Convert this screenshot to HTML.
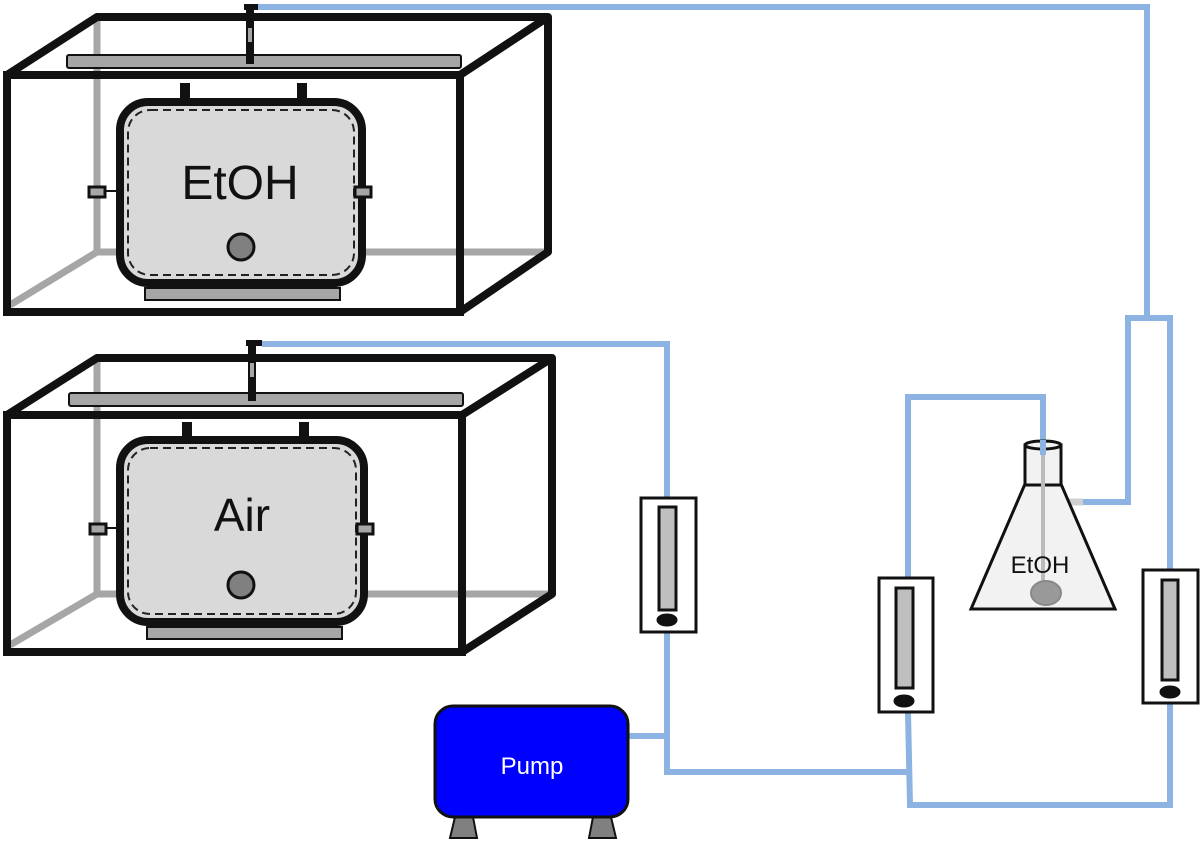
<!DOCTYPE html>
<html><head><meta charset="utf-8"><style>body{margin:0;background:#fff}svg{display:block}</style></head><body>
<svg width="1200" height="841" viewBox="0 0 1200 841" xmlns="http://www.w3.org/2000/svg" font-family="Liberation Sans, DejaVu Sans, sans-serif">
<g fill="none" stroke="#8db3e2" stroke-width="6">
<polyline points="258,7 1147,7 1147,318"/>
<polyline points="262,344 667,344 667,498"/>
<polyline points="667,632 667,772 910,772"/>
<line x1="628" y1="736" x2="667" y2="736"/>
<polyline points="908,578 908,397 1043,397 1043,455"/>
<polyline points="908,712 910,805 1170,805 1170,703"/>
<polyline points="1170,570 1170,318 1128,318 1128,502 1082,502"/>
</g>
<line x1="1060" y1="502" x2="1083" y2="502" stroke="#d0d0d0" stroke-width="7"/>
<!-- top box -->
<g>
<g stroke="#a6a6a6" stroke-width="7" fill="none">
<line x1="97" y1="17" x2="97" y2="252"/><line x1="97" y1="252" x2="548" y2="252"/><line x1="10" y1="305" x2="97" y2="252"/>
</g>
<g stroke="#111" stroke-width="8" fill="none" stroke-linejoin="round">
<polyline points="7,75 97,17 548,17 548,252 460,312"/>
<line x1="460" y1="75" x2="548" y2="17"/>
</g>
<rect x="67" y="55" width="394" height="13" rx="2" fill="#a6a6a6" stroke="#111" stroke-width="2"/>
<rect x="7" y="75" width="453" height="237" fill="none" stroke="#111" stroke-width="8"/>
<rect x="246" y="8" width="8" height="56" fill="#111"/><rect x="248" y="28" width="4" height="14" fill="#a6a6a6"/>
<rect x="244" y="4" width="14" height="6" fill="#111"/>
<rect x="180" y="83" width="10" height="28" fill="#111"/><rect x="297" y="83" width="10" height="28" fill="#111"/>
<rect x="145" y="288" width="195" height="12" fill="#a6a6a6" stroke="#111" stroke-width="2"/>
<rect x="120" y="102" width="242" height="181" rx="28" fill="#d9d9d9" stroke="#111" stroke-width="8"/>
<rect x="128" y="110" width="226" height="165" rx="22" fill="none" stroke="#222" stroke-width="2" stroke-dasharray="8,5"/>
<rect x="89" y="187" width="16" height="10" fill="#a6a6a6" stroke="#111" stroke-width="3"/>
<line x1="105" y1="191" x2="120" y2="191" stroke="#111" stroke-width="2"/>
<rect x="355" y="187" width="16" height="10" fill="#a6a6a6" stroke="#111" stroke-width="3"/>
<circle cx="241" cy="247" r="13" fill="#808080" stroke="#111" stroke-width="3"/>
<text x="240" y="199" font-size="48" text-anchor="middle" fill="#111">EtOH</text>
</g>
<!-- bottom box -->
<g>
<g stroke="#a6a6a6" stroke-width="7" fill="none">
<line x1="97" y1="358" x2="97" y2="594"/><line x1="97" y1="594" x2="552" y2="594"/><line x1="10" y1="645" x2="97" y2="594"/>
</g>
<g stroke="#111" stroke-width="8" fill="none" stroke-linejoin="round">
<polyline points="7,415 97,358 552,358 552,594 462,652"/>
<line x1="462" y1="415" x2="552" y2="358"/>
</g>
<rect x="69" y="393" width="394" height="13" rx="2" fill="#a6a6a6" stroke="#111" stroke-width="2"/>
<rect x="7" y="415" width="455" height="237" fill="none" stroke="#111" stroke-width="8"/>
<rect x="248" y="345" width="8" height="56" fill="#111"/><rect x="250" y="363" width="4" height="14" fill="#a6a6a6"/>
<rect x="246" y="340" width="16" height="6" fill="#111"/>
<rect x="182" y="422" width="10" height="28" fill="#111"/><rect x="299" y="422" width="10" height="28" fill="#111"/>
<rect x="147" y="627" width="195" height="12" fill="#a6a6a6" stroke="#111" stroke-width="2"/>
<rect x="120" y="440" width="244" height="182" rx="28" fill="#d9d9d9" stroke="#111" stroke-width="8"/>
<rect x="128" y="448" width="228" height="166" rx="22" fill="none" stroke="#222" stroke-width="2" stroke-dasharray="8,5"/>
<rect x="90" y="524" width="16" height="10" fill="#a6a6a6" stroke="#111" stroke-width="3"/>
<line x1="106" y1="528" x2="120" y2="528" stroke="#111" stroke-width="2"/>
<rect x="357" y="524" width="16" height="10" fill="#a6a6a6" stroke="#111" stroke-width="3"/>
<circle cx="241" cy="585" r="13" fill="#808080" stroke="#111" stroke-width="3"/>
<text x="242" y="531" font-size="46" text-anchor="middle" fill="#111">Air</text>
</g>
<!-- rotameters -->
<g stroke="#111" stroke-width="3">
<rect x="641" y="498" width="55" height="134" fill="#fff"/>
<rect x="659" y="507" width="17" height="103" fill="#bfbfbf"/>
<ellipse cx="667" cy="620" rx="9" ry="5" fill="#111"/>
<rect x="879" y="578" width="54" height="134" fill="#fff"/>
<rect x="896" y="588" width="17" height="100" fill="#bfbfbf"/>
<ellipse cx="904" cy="701" rx="9" ry="5" fill="#111"/>
<rect x="1143" y="570" width="55" height="133" fill="#fff"/>
<rect x="1162" y="580" width="16" height="100" fill="#bfbfbf"/>
<ellipse cx="1170" cy="692" rx="9" ry="5" fill="#111"/>
</g>
<!-- flask -->
<polygon points="1025,484 1061,484 1115,609 971,609" fill="#f2f2f2" stroke="#111" stroke-width="3"/>
<rect x="1025" y="445" width="36" height="40" fill="#f2f2f2" stroke="#111" stroke-width="3"/>
<ellipse cx="1043" cy="445" rx="18" ry="4" fill="#f2f2f2" stroke="#111" stroke-width="3"/>
<line x1="1043" y1="452" x2="1043" y2="590" stroke="#bbb" stroke-width="4"/>
<line x1="1043" y1="440" x2="1043" y2="455" stroke="#8db3e2" stroke-width="6"/>
<ellipse cx="1046" cy="593" rx="15" ry="12" fill="#999" stroke="#888" stroke-width="2"/>
<text x="1040" y="573" font-size="24" text-anchor="middle" fill="#111">EtOH</text>
<!-- pump -->
<polygon points="455,817 473,817 477,838 450,838" fill="#808080" stroke="#111" stroke-width="2"/>
<polygon points="593,817 611,817 616,838 589,838" fill="#808080" stroke="#111" stroke-width="2"/>
<rect x="435" y="706" width="193" height="111" rx="18" fill="#0000ff" stroke="#111" stroke-width="3"/>
<text x="532" y="774" font-size="24" text-anchor="middle" fill="#fff">Pump</text>
</svg>
</body></html>
